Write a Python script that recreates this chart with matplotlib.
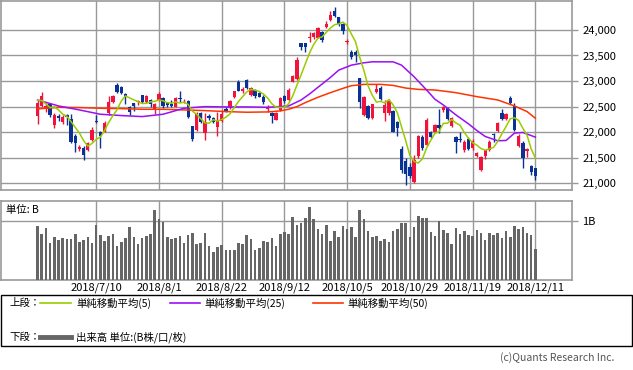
# Nikkei 225 daily candles with moving averages and volume

import numpy as np
import pandas as pd
import matplotlib
matplotlib.use("Agg")
import matplotlib.pyplot as plt
from matplotlib.lines import Line2D
from matplotlib.patches import Rectangle

plt.rcParams["font.family"] = ["Noto Sans CJK JP", "DejaVu Sans"]

# -------------------------------
# Data
# -------------------------------
opens = [22325, 22513, 22448, 22552, 22143, 22325, 22195, 22335, 22250, 21920,
         21676, 21690, 21643, 21838, 22221, 22000, 22013, 22370, 22584, 22922,
         22889, 22740, 22500, 22565, 22590, 22718, 22597, 22630, 22435, 22630,
         22675, 22565, 22560, 22500, 22660, 22570, 22610, 22120, 22046, 22370,
         21981, 22315, 22280, 22110, 22220, 22450, 22470, 22680, 22990, 22810,
         23020, 22727, 22825, 22760, 22695, 22460, 22370, 22240, 22435, 22708,
         22630, 22987, 23039, 23735, 23735, 23840, 23870, 23850, 23955, 24055,
         24200, 24370, 24245, 24110, 23770, 23560, 23570, 23050, 22330, 22515,
         22285, 22790, 22860, 22370, 22370, 22415, 22190, 21675, 21445, 21310,
         21020, 21525, 21915, 21750, 22000, 22000, 22150, 22440, 22470, 22120,
         21900, 21860, 21656, 21870, 21690, 21540, 21267, 21540, 21645, 21970,
         22020, 22380, 22255, 22660, 22520, 21720, 21790, 21640, 21330, 21290]
highs = [22630, 22785, 22565, 22578, 22383, 22357, 22330, 22355, 22350, 21960,
         21740, 21720, 21815, 22110, 22338, 22030, 22210, 22700, 22735, 22954,
         22910, 22770, 22513, 22580, 22630, 22730, 22730, 22645, 22565, 22785,
         22695, 22600, 22630, 22680, 22805, 22650, 22630, 22130, 22395, 22390,
         22370, 22350, 22300, 22390, 22430, 22490, 22630, 22815, 23020, 22890,
         23040, 22880, 22840, 22790, 22730, 22540, 22390, 22400, 22680, 22730,
         22870, 23120, 23480, 23745, 23745, 23950, 23960, 24050, 23975, 24175,
         24370, 24450, 24260, 24130, 23820, 23600, 23600, 23050, 22710, 22530,
         22555, 22950, 22910, 22630, 22640, 22430, 22210, 21720, 21500, 21390,
         21560, 21940, 21950, 22270, 22015, 22160, 22450, 22515, 22500, 22300,
         21920, 22000, 21850, 21900, 21860, 21610, 21540, 21660, 21840, 21990,
         22200, 22460, 22370, 22700, 22565, 21960, 21820, 21690, 21360, 21300]
lows = [22163, 22487, 22403, 22305, 22085, 22215, 22160, 22135, 21780, 21620,
        21630, 21460, 21625, 21820, 22175, 21700, 21995, 22335, 22565, 22770,
        22745, 22545, 22340, 22420, 22535, 22565, 22580, 22490, 22350, 22610,
        22470, 22485, 22487, 22487, 22600, 22565, 22270, 21830, 22030, 22180,
        21851, 22240, 22175, 21930, 22200, 22390, 22455, 22660, 22800, 22760,
        22840, 22710, 22665, 22680, 22550, 22400, 22170, 22230, 22415, 22565,
        22615, 22975, 23020, 23600, 23570, 23770, 23820, 23835, 23760, 24040,
        24180, 24250, 24080, 23930, 23720, 23430, 23370, 22470, 22310, 22250,
        22260, 22760, 22630, 22210, 22340, 22000, 21920, 21210, 20970, 21110,
        21010, 21490, 21660, 21720, 21880, 21985, 21980, 22400, 22240, 22100,
        21590, 21800, 21620, 21660, 21660, 21510, 21240, 21470, 21625, 21800,
        22010, 22240, 22240, 22560, 22020, 21710, 21300, 21510, 21170, 21060]
closes = [22578, 22701, 22516, 22338, 22342, 22272, 22295, 22304, 21812, 21785,
          21717, 21547, 21788, 22052, 22197, 21932, 22188, 22597, 22698, 22794,
          22765, 22697, 22397, 22510, 22614, 22587, 22713, 22545, 22554, 22747,
          22513, 22525, 22507, 22663, 22644, 22598, 22298, 21857, 22356, 22204,
          22192, 22270, 22199, 22220, 22363, 22411, 22602, 22800, 22813, 22848,
          22870, 22865, 22707, 22697, 22581, 22488, 22307, 22373, 22665, 22605,
          22821, 23095, 23421, 23673, 23675, 23870, 23940, 24034, 23797, 24120,
          24290, 24271, 24110, 23976, 23784, 23469, 23506, 22591, 22695, 22271,
          22549, 22841, 22658, 22532, 22615, 22011, 22091, 21269, 21185, 21150,
          21457, 21920, 21688, 22244, 21899, 22148, 22086, 22487, 22250, 22270,
          21811, 21846, 21804, 21680, 21821, 21583, 21508, 21647, 21812, 21952,
          22177, 22263, 22351, 22575, 22036, 21919, 21502, 21679, 21220, 21148]

# closes before the first visible bar (only used to start the 5-day average)
pre_closes = [22738, 22851, 22680, 22278]

# volume in billions of shares
volume = [0.915, 0.784, 0.886, 0.631, 0.733, 0.682, 0.710, 0.699, 0.699, 0.784,
          0.653, 0.682, 0.733, 0.631, 0.938, 0.767, 0.665, 0.750, 0.784, 0.580,
          0.648, 0.716, 0.903, 0.733, 0.614, 0.716, 0.750, 0.784, 1.193, 1.040,
          0.977, 0.733, 0.699, 0.716, 0.750, 0.631, 0.767, 0.801, 0.614, 0.631,
          0.801, 0.580, 0.477, 0.563, 0.597, 0.511, 0.511, 0.511, 0.631, 0.614,
          0.767, 0.699, 0.511, 0.545, 0.665, 0.648, 0.716, 0.580, 0.784, 0.818,
          0.784, 1.074, 0.938, 0.972, 1.057, 1.244, 1.040, 0.869, 0.784, 0.938,
          0.665, 0.835, 0.733, 0.920, 0.869, 0.903, 0.733, 1.193, 1.040, 0.835,
          0.733, 0.750, 0.665, 0.699, 0.648, 0.835, 0.869, 0.972, 0.972, 0.733,
          0.903, 1.091, 1.057, 1.057, 0.818, 0.750, 1.006, 0.852, 0.801, 0.614,
          0.886, 0.784, 0.835, 0.767, 0.750, 0.852, 0.801, 0.682, 0.801, 0.767,
          0.801, 0.716, 0.835, 0.733, 0.920, 0.869, 0.903, 0.801, 0.767, 0.528]

# 25 / 50 day averages read at selected bars
ma25_idx = [0, 5, 10, 15, 20, 25, 30, 35, 40, 45, 50, 55, 60, 63, 65, 68, 70, 72,
            75, 78, 80, 85, 87, 90, 93, 95, 97, 100, 103, 105, 107, 110, 112, 114,
            116, 119]
ma25_val = [22630, 22513, 22435, 22351, 22325, 22305, 22351, 22468, 22500, 22494,
            22494, 22487, 22513, 22630, 22747, 22941, 23071, 23214, 23311, 23357,
            23376, 23376, 23311, 23084, 22825, 22643, 22532, 22338, 22163, 22033,
            21916, 21832, 21838, 21981, 21994, 21903]
ma50_idx = [0, 5, 10, 15, 20, 25, 30, 35, 40, 45, 50, 55, 58, 60, 62, 64, 67, 70,
            73, 75, 78, 82, 85, 88, 91, 95, 100, 105, 110, 114, 117, 119]
ma50_val = [22455, 22487, 22481, 22468, 22461, 22448, 22448, 22435, 22422, 22403,
            22390, 22396, 22416, 22448, 22500, 22578, 22682, 22773, 22857, 22909,
            22935, 22935, 22915, 22863, 22837, 22825, 22773, 22695, 22630, 22513,
            22403, 22273]

tick_idx = [14, 29, 44, 59, 74, 89, 104, 119]
tick_labels = ["2018/7/10", "2018/8/1", "2018/8/22", "2018/9/12",
               "2018/10/5", "2018/10/29", "2018/11/19", "2018/12/11"]
price_ticks = [21000, 21500, 22000, 22500, 23000, 23500, 24000]

# -------------------------------
# Theme
# -------------------------------
UP_COLOR = "#f0143c"
DOWN_COLOR = "#0a3296"
MA5_COLOR = "#99cc00"
MA25_COLOR = "#9910f5"
MA50_COLOR = "#ff3300"
VOL_COLOR = "#666666"
GRID_COLOR = "#999999"

o = np.array(opens, dtype=float)
h = np.array(highs, dtype=float)
l = np.array(lows, dtype=float)
c = np.array(closes, dtype=float)
x = np.arange(len(c))

ma5 = pd.Series(pre_closes + closes, dtype=float).rolling(5).mean()
ma5 = ma5.iloc[len(pre_closes):].to_numpy()

fig = plt.figure(figsize=(6.33, 3.70), dpi=100)
ax = fig.add_axes([0.0016, 0.4865, 0.9020, 0.5115])
axv = fig.add_axes([0.0016, 0.2432, 0.9020, 0.2135])

XMIN, XMAX = -8.75, 127.75

# -------------------------------
# Price panel
# -------------------------------
cols = np.where(c >= o, UP_COLOR, DOWN_COLOR)
ax.vlines(x, l, h, colors=cols, linewidth=1, zorder=3)
ax.bar(x, np.maximum(np.abs(c - o), 14), bottom=np.minimum(o, c),
       width=0.8, color=cols, linewidth=0, zorder=4)

ax.plot(ma50_idx, ma50_val, color=MA50_COLOR, linewidth=1.1, zorder=5)
ax.plot(ma25_idx, ma25_val, color=MA25_COLOR, linewidth=1.1, zorder=5)
ax.plot(x, ma5, color=MA5_COLOR, linewidth=1.1, zorder=6)

ax.set_xlim(XMIN, XMAX)
ax.set_ylim(20869, 24571)
ax.set_xticks(tick_idx)
ax.set_xticklabels([])
ax.set_yticks(price_ticks)
ax.set_yticklabels([f"{v:,}" for v in price_ticks])
ax.yaxis.tick_right()
ax.tick_params(axis="x", length=0)
ax.tick_params(axis="y", length=4.5, width=1, color=GRID_COLOR, pad=3,
               labelsize=8)
ax.grid(True, color=GRID_COLOR, linewidth=1, zorder=0)
ax.set_axisbelow(True)
for s in ax.spines.values():
    s.set_color(GRID_COLOR)
    s.set_linewidth(1.2)

# -------------------------------
# Volume panel
# -------------------------------
axv.bar(x, volume, width=0.62, color=VOL_COLOR, linewidth=0, zorder=3)
axv.set_xlim(XMIN, XMAX)
axv.set_ylim(0, 1.34)
axv.set_xticks(tick_idx)
axv.set_xticklabels(tick_labels)
axv.set_yticks([1.0])
axv.set_yticklabels(["1B"])
axv.yaxis.tick_right()
axv.tick_params(axis="x", length=0, pad=2, labelsize=8)
axv.tick_params(axis="y", length=4.5, width=1, color=GRID_COLOR, pad=3,
                labelsize=8)
axv.grid(True, color=GRID_COLOR, linewidth=1, zorder=0)
axv.set_axisbelow(True)
for s in axv.spines.values():
    s.set_color(GRID_COLOR)
    s.set_linewidth(1.2)
axv.text(0.008, 0.89, "単位: B", transform=axv.transAxes, fontsize=7.5,
         va="center", ha="left")

# -------------------------------
# Legend box
# -------------------------------
W, H = 633.0, 370.0


def fx(px):
    return px / W


def fy(py):
    return 1 - py / H


fig.patches.append(Rectangle((fx(0.5), fy(346)), fx(631.5), (346 - 295) / H,
                             transform=fig.transFigure, fill=False,
                             edgecolor="black", linewidth=1))

row1, row2 = 303, 337
fig.text(fx(9), fy(row1), "上段：", fontsize=7.5, va="center")
fig.lines.append(Line2D([fx(40), fx(71)], [fy(row1)] * 2, color=MA5_COLOR,
                        linewidth=1.2, transform=fig.transFigure))
fig.text(fx(76), fy(row1), "単純移動平均(5)", fontsize=7.5, va="center")
fig.lines.append(Line2D([fx(170), fx(200)], [fy(row1)] * 2, color=MA25_COLOR,
                        linewidth=1.2, transform=fig.transFigure))
fig.text(fx(204), fy(row1), "単純移動平均(25)", fontsize=7.5, va="center")
fig.lines.append(Line2D([fx(313), fx(343)], [fy(row1)] * 2, color=MA50_COLOR,
                        linewidth=1.2, transform=fig.transFigure))
fig.text(fx(347), fy(row1), "単純移動平均(50)", fontsize=7.5, va="center")

fig.text(fx(9), fy(row2), "下段：", fontsize=7.5, va="center")
fig.lines.append(Line2D([fx(40), fx(71)], [fy(row2)] * 2, color=VOL_COLOR,
                        linewidth=3.5, transform=fig.transFigure))
fig.text(fx(76), fy(row2), "出来高 単位:(B株/口/枚)", fontsize=7.5, va="center")

fig.text(fx(614), fy(358), "(c)Quants Research Inc.", fontsize=7.5,
         va="center", ha="right", color="#555555")

fig.savefig("out.png", dpi=100)
